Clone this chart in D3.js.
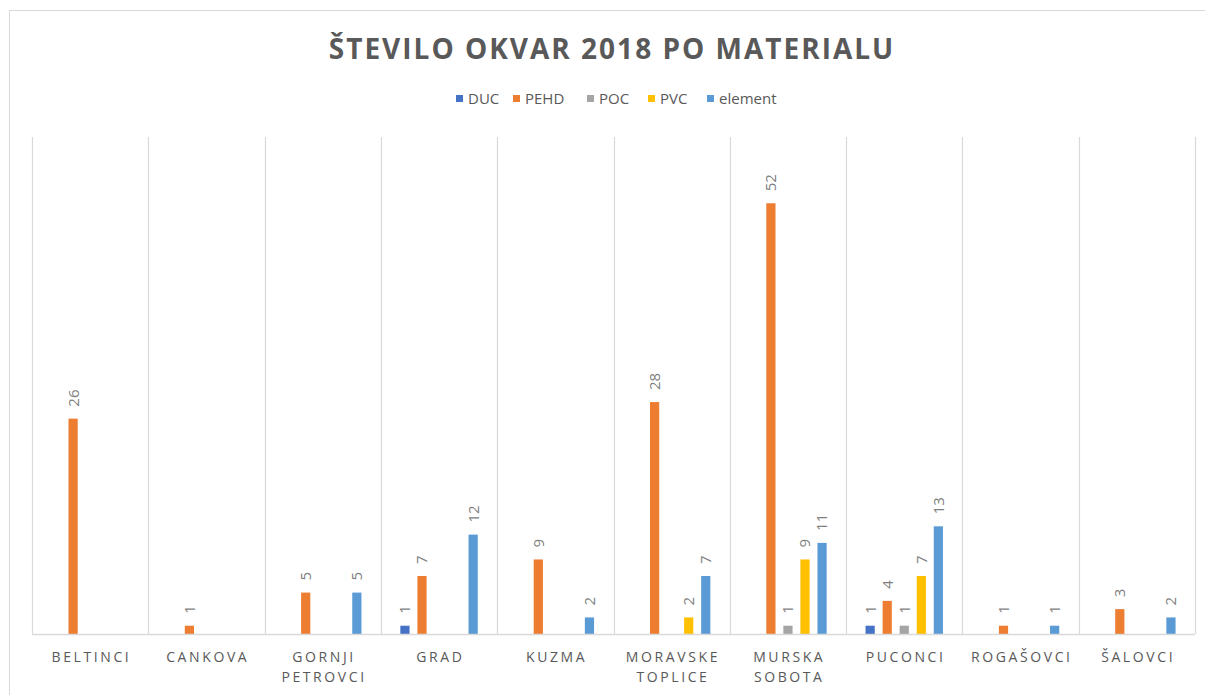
<!DOCTYPE html>
<html>
<head>
<meta charset="utf-8">
<script src="https://cdn.jsdelivr.net/npm/d3@7"></script>
<style>
  body { margin: 0; background: #fff; }
  svg { display: block; font-family: "Open Sans", sans-serif; }
</style>
</head>
<body>
<svg id="chart" width="1205" height="695"></svg>
<script>
// the towns (x categories), in order
var towns = ["BELTINCI", "CANKOVA", "GORNJI PETROVCI", "GRAD", "KUZMA",
  "MORAVSKE TOPLICE", "MURSKA SOBOTA", "PUCONCI", "ROGAŠOVCI", "ŠALOVCI"];
var materials = ["DUC", "PEHD", "POC", "PVC", "element"];
var colors = ["#4472C4", "#ED7D31", "#A5A5A5", "#FFC000", "#5B9BD5"];

// counts per material, one per town (null = no bar)
var duc     = [null, null, null, 1, null, null, null, 1, null, null];
var pehd    = [26, 1, 5, 7, 9, 28, 52, 4, 1, 3];
var poc     = [null, null, null, null, null, null, 1, 1, null, null];
var pvc     = [null, null, null, null, null, 2, 9, 7, null, null];
var element = [null, null, 5, 12, 2, 7, 11, 13, 1, 2];
var series = [duc, pehd, poc, pvc, element];

var svg = d3.select("#chart");
// note: "top" clashes with window.top, so plotTop etc.
var plotLeft = 32, plotRight = 1195, plotTop = 137, plotBottom = 634;

// outer frame of the chart
svg.append("rect")
  .attr("x", 9.5).attr("y", 10.5)
  .attr("width", 1300).attr("height", 800)
  .attr("fill", "none").attr("stroke", "#d9d9d9");

var x = d3.scaleBand().domain(towns).range([plotLeft, plotRight]).padding(0);
var inner = d3.scaleBand().domain(materials).range([0, x.bandwidth()])
  .paddingInner(0.46).paddingOuter(1.14);
var y = d3.scaleLinear().domain([0, 60]).range([plotBottom, plotTop]);

// vertical separators between towns
var edges = towns.map(function(t) { return x(t); }).concat([plotRight]);
svg.append("g").selectAll("line")
  .data(edges).enter()
  .append("line")
  .attr("x1", function(d) { return Math.round(d) + 0.5; })
  .attr("x2", function(d) { return Math.round(d) + 0.5; })
  .attr("y1", plotTop).attr("y2", plotBottom)
  .attr("stroke", "#d9d9d9").attr("stroke-width", 1.2);

// flatten to one record per bar
var bars = [];
series.forEach(function(vals, si) {
  vals.forEach(function(v, ti) {
    if (v !== null) bars.push({town: towns[ti], mat: materials[si], color: colors[si], value: v});
  });
});

svg.append("g").selectAll("rect")
  .data(bars).enter()
  .append("rect")
  .attr("x", function(d) { return x(d.town) + inner(d.mat); })
  .attr("y", function(d) { return y(d.value); })
  .attr("width", inner.bandwidth())
  .attr("height", function(d) { return y(0) - y(d.value); })
  .attr("fill", function(d) { return d.color; });

// baseline
svg.append("line")
  .attr("x1", plotLeft).attr("x2", plotRight)
  .attr("y1", plotBottom + 0.5).attr("y2", plotBottom + 0.5)
  .attr("stroke", "#d9d9d9").attr("stroke-width", 1.5);

// rotated value labels
svg.append("g").selectAll("text")
  .data(bars).enter()
  .append("text")
  .attr("transform", function(d) {
    var cx = x(d.town) + inner(d.mat) + inner.bandwidth() / 2;
    return "translate(" + cx + "," + (y(d.value) - 12) + ") rotate(-90)";
  })
  .attr("dy", "0.36em")
  .attr("fill", "#7f7f7f")
  .style("font-size", "15px")
  .text(function(d) { return d.value; });

// town labels, split on the space for two-word names
var lab = svg.append("g").selectAll("text")
  .data(towns).enter()
  .append("text")
  .attr("x", function(d) { return x(d) + x.bandwidth() / 2; })
  .attr("y", 662)
  .attr("text-anchor", "middle")
  .attr("fill", "#595959")
  .style("font-size", "14px")
  .style("letter-spacing", "2.6px");
lab.each(function(d) {
  var words = d.split(" ");
  var t = d3.select(this);
  words.forEach(function(w, i) {
    t.append("tspan")
      .attr("x", x(d) + x.bandwidth() / 2 + 1.3)
      .attr("dy", i === 0 ? 0 : 20)
      .text(w);
  });
});

// title
svg.append("text")
  .attr("x", 612).attr("y", 59)
  .attr("text-anchor", "middle")
  .attr("fill", "#595959")
  .style("font-size", "28px")
  .style("font-weight", "bold")
  .style("letter-spacing", "2px")
  .text("ŠTEVILO OKVAR 2018 PO MATERIALU");

// legend
var legX = [456, 513, 587, 648, 707];
var leg = svg.append("g").selectAll("g")
  .data(materials).enter()
  .append("g")
  .attr("transform", function(d, i) { return "translate(" + legX[i] + ",95)"; });
leg.append("rect")
  .attr("width", 7).attr("height", 7)
  .attr("fill", function(d, i) { return colors[i]; });
leg.append("text")
  .attr("x", 12).attr("y", 9)
  .attr("fill", "#595959")
  .style("font-size", "15px")
  .text(function(d) { return d; });
</script>
</body>
</html>
